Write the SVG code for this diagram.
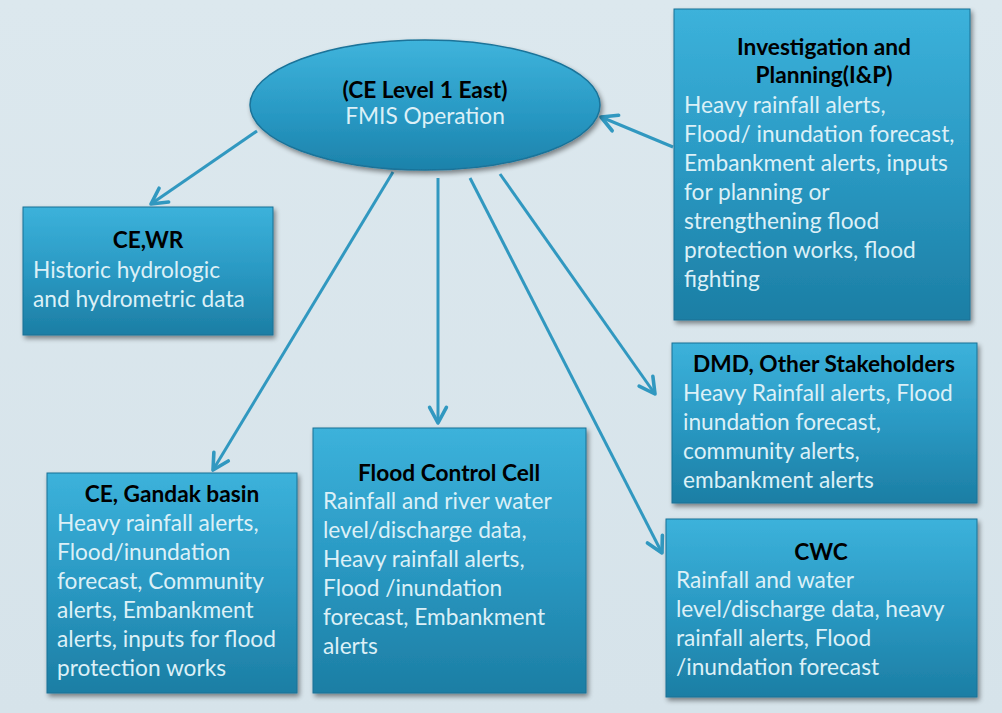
<svg xmlns="http://www.w3.org/2000/svg" width="1002" height="713" viewBox="0 0 1002 713">
<defs>
<linearGradient id="bg" x1="0" y1="0" x2="0" y2="1">
<stop offset="0" stop-color="#dce8ee"/>
<stop offset="1" stop-color="#d6e3ea"/>
</linearGradient>
<linearGradient id="boxg" x1="0" y1="0" x2="0" y2="1">
<stop offset="0" stop-color="#3cb2db"/>
<stop offset="0.5" stop-color="#2a99c3"/>
<stop offset="1" stop-color="#1c7ea4"/>
</linearGradient>
<linearGradient id="ellg" x1="0" y1="0" x2="0" y2="1">
<stop offset="0" stop-color="#3fb4dc"/>
<stop offset="0.6" stop-color="#2797c2"/>
<stop offset="1" stop-color="#1d82aa"/>
</linearGradient>
<filter id="sh" x="-10%" y="-10%" width="125%" height="125%">
<feGaussianBlur in="SourceAlpha" stdDeviation="2.5"/>
<feOffset dx="2" dy="3" result="b"/>
<feComponentTransfer><feFuncA type="linear" slope="0.45"/></feComponentTransfer>
<feMerge><feMergeNode/><feMergeNode in="SourceGraphic"/></feMerge>
</filter>
<marker id="arr" viewBox="0 0 20 20" refX="17" refY="10" markerWidth="8" markerHeight="8" orient="auto" markerUnits="strokeWidth">
<polyline points="4,3 17,10 4,17" fill="none" stroke="#3198c0" stroke-width="3" stroke-linecap="round" stroke-linejoin="round"/>
</marker>
<style>
.box{fill:url(#boxg);stroke:#1a7095;stroke-width:1;filter:url(#sh)}
.ttl{font-family:Lato,"Liberation Sans",sans-serif;font-weight:bold;font-size:22.7px;fill:#000;text-anchor:middle}
.bd{font-family:Lato,"Liberation Sans",sans-serif;font-size:22.7px;fill:#dcf0f7}
.con{stroke:#3198c0;stroke-width:3;fill:none;marker-end:url(#arr)}
</style>
</defs>
<rect width="1002" height="713" fill="url(#bg)"/>

<g id="connectors">
<line class="con" x1="257" y1="131" x2="151" y2="204"/>
<line class="con" x1="673" y1="147" x2="601" y2="117"/>
<line class="con" x1="393" y1="172" x2="213" y2="470"/>
<line class="con" x1="438" y1="178" x2="438" y2="423"/>
<line class="con" x1="500" y1="174" x2="655" y2="394"/>
<line class="con" x1="470" y1="178" x2="662" y2="553"/>
</g>

<g id="n-center">
<ellipse cx="425" cy="105" rx="175" ry="65" fill="url(#ellg)" stroke="#1a7399" stroke-width="1.5" filter="url(#sh)"/>
<text class="ttl" x="425" y="98">(CE Level 1 East)</text>
<text class="bd" x="425" y="124" text-anchor="middle">FMIS Operation</text>
</g>

<g id="n-ip">
<rect class="box" x="674" y="9" width="296" height="311"/>
<text class="ttl" x="824" y="55">Investigation and</text>
<text class="ttl" x="824" y="83">Planning(I&amp;P)</text>
<text class="bd" x="684" y="113">Heavy rainfall alerts,</text>
<text class="bd" x="684" y="142">Flood/ inundation forecast,</text>
<text class="bd" x="684" y="171">Embankment alerts, inputs</text>
<text class="bd" x="684" y="200">for planning or</text>
<text class="bd" x="684" y="229">strengthening flood</text>
<text class="bd" x="684" y="258">protection works, flood</text>
<text class="bd" x="684" y="287">fighting</text>
</g>

<g id="n-cewr">
<rect class="box" x="23" y="207" width="250" height="128"/>
<text class="ttl" x="148" y="248">CE,WR</text>
<text class="bd" x="33" y="278">Historic hydrologic</text>
<text class="bd" x="33" y="307">and hydrometric data</text>
</g>

<g id="n-gandak">
<rect class="box" x="47" y="473" width="250" height="220"/>
<text class="ttl" x="172" y="502">CE, Gandak basin</text>
<text class="bd" x="57" y="531">Heavy rainfall alerts,</text>
<text class="bd" x="57" y="560">Flood/inundation</text>
<text class="bd" x="57" y="589">forecast, Community</text>
<text class="bd" x="57" y="618">alerts, Embankment</text>
<text class="bd" x="57" y="647">alerts, inputs for flood</text>
<text class="bd" x="57" y="676">protection works</text>
</g>

<g id="n-fcc">
<rect class="box" x="313" y="428" width="273" height="265"/>
<text class="ttl" x="449" y="481">Flood Control Cell</text>
<text class="bd" x="323" y="509">Rainfall and river water</text>
<text class="bd" x="323" y="538">level/discharge data,</text>
<text class="bd" x="323" y="567">Heavy rainfall alerts,</text>
<text class="bd" x="323" y="596">Flood /inundation</text>
<text class="bd" x="323" y="625">forecast, Embankment</text>
<text class="bd" x="323" y="654">alerts</text>
</g>

<g id="n-dmd">
<rect class="box" x="672" y="343" width="305" height="160"/>
<text class="ttl" x="824" y="372">DMD, Other Stakeholders</text>
<text class="bd" x="683" y="401">Heavy Rainfall alerts, Flood</text>
<text class="bd" x="683" y="430">inundation forecast,</text>
<text class="bd" x="683" y="459">community alerts,</text>
<text class="bd" x="683" y="488">embankment alerts</text>
</g>

<g id="n-cwc">
<rect class="box" x="666" y="519" width="311" height="178"/>
<text class="ttl" x="821" y="560">CWC</text>
<text class="bd" x="676" y="588">Rainfall and water</text>
<text class="bd" x="676" y="617">level/discharge data, heavy</text>
<text class="bd" x="676" y="646">rainfall alerts, Flood</text>
<text class="bd" x="676" y="675">/inundation forecast</text>
</g>
</svg>
